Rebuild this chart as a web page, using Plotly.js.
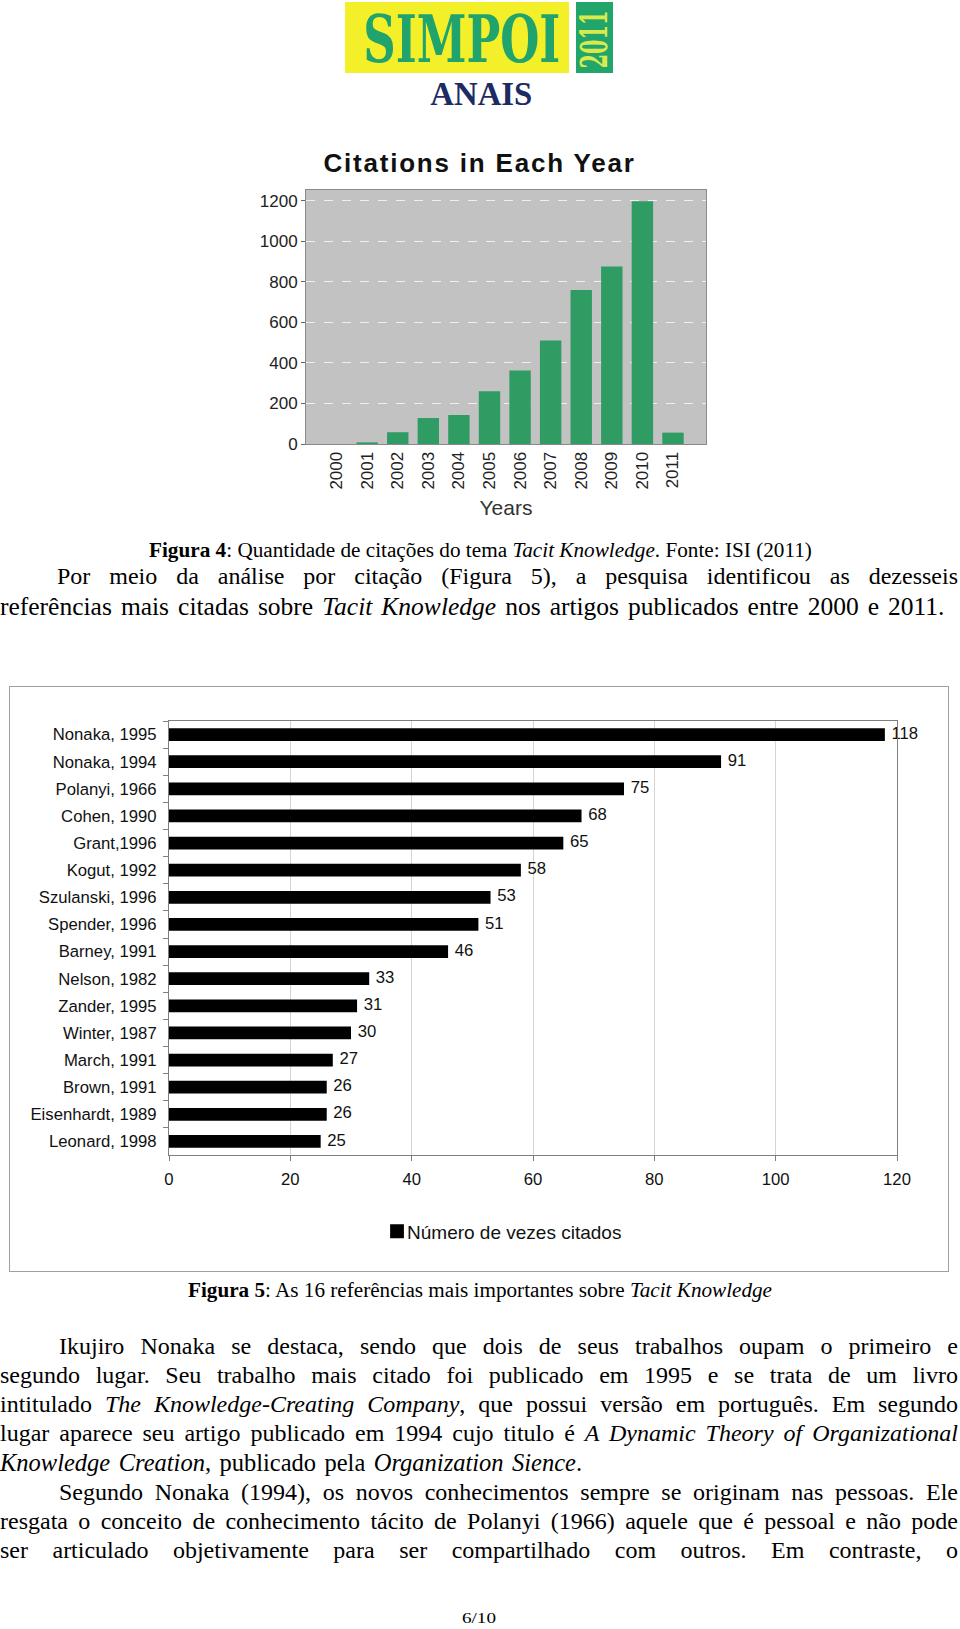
<!DOCTYPE html>
<html>
<head>
<meta charset="utf-8">
<script src="https://cdn.plot.ly/plotly-3.0.1.min.js"></script>
<style>
  html, body { margin:0; padding:0; background:#fff; }
  body { width:960px; height:1629px; position:relative; overflow:hidden; }
  .ln { position:absolute; white-space:nowrap; font-family:"Liberation Serif","Times New Roman",serif; color:#000; transform-origin:0 50%; }
  #c1 { position:absolute; left:230px; top:130px; width:500px; height:400px; }
  #c2 { position:absolute; left:9px; top:686px; width:940px; height:586px; }
  #c2frame { position:absolute; left:9px; top:686px; width:938px; height:584px; border:1.5px solid #a0a0a0; pointer-events:none; }
  #logoY { position:absolute; left:345px; top:2px; width:224px; height:71px; background:#f3f02a; }
  #logoG { position:absolute; left:576px; top:2px; width:37px; height:71px; background:#22a56b; }
  .logoT { position:absolute; white-space:nowrap; font-family:"DejaVu Serif",serif; font-weight:bold; }
</style>
</head>
<body>
<div id="logoY"></div>
<div id="logoG"></div>
<div id="c1"></div>
<div id="c2"></div>
<div id="c2frame"></div>
<script>
// ---------- DATA ----------
const years = ['2000','2001','2002','2003','2004','2005','2006','2007','2008','2009','2010','2011'];
const citationsPerYear = [0, 8, 58, 128, 143, 260, 363, 511, 760, 876, 1197, 56];

const references = ['Nonaka, 1995','Nonaka, 1994','Polanyi, 1966','Cohen, 1990','Grant,1996','Kogut, 1992',
  'Szulanski, 1996','Spender, 1996','Barney, 1991','Nelson, 1982','Zander, 1995','Winter, 1987',
  'March, 1991','Brown, 1991','Eisenhardt, 1989','Leonard, 1998'];
const timesCited = [118, 91, 75, 68, 65, 58, 53, 51, 46, 33, 31, 30, 27, 26, 26, 25];
const seriesName = 'Número de vezes citados';
const valueTicks = [0, 20, 40, 60, 80, 100, 120];
const yearTicks = [0, 200, 400, 600, 800, 1000, 1200];

// ---------- PAGE TEXT ----------
const lines = [
  {y:549.6, x0:148.6, x1:811.5, size:20, j:false, segs:[['Figura 4','b'],[': Quantidade de citações do tema ',''],['Tacit Knowledge','i'],['. Fonte: ISI (2011)','']]},
  {y:576.6, x0:57, x1:958, size:24, j:true, segs:[['Por meio da análise por citação (Figura 5), a pesquisa identificou as dezesseis','']]},
  {y:606.8, x0:0, x1:944.5, size:25.5, j:false, segs:[['referências mais citadas sobre ',''],['Tacit Knowledge','i'],[' nos artigos publicados entre 2000 e 2011.','']]},
  {y:1290.4, x0:188, x1:772, size:20, j:false, segs:[['Figura 5','b'],[': As 16 referências mais importantes sobre ',''],['Tacit Knowledge','i']]},
  {y:1346.5, x0:59, x1:958, size:24, j:true, segs:[['Ikujiro Nonaka se destaca, sendo que dois de seus trabalhos oupam o primeiro e','']]},
  {y:1375.6, x0:0, x1:958, size:24, j:true, segs:[['segundo lugar. Seu trabalho mais citado foi publicado em 1995 e se trata de um livro','']]},
  {y:1404.7, x0:0, x1:958, size:24, j:true, segs:[['intitulado ',''],['The Knowledge-Creating Company','i'],[', que possui versão em português. Em segundo','']]},
  {y:1433.8, x0:0, x1:958, size:24, j:true, segs:[['lugar aparece seu artigo publicado em 1994 cujo titulo é ',''],['A Dynamic Theory of Organizational','i']]},
  {y:1462.9, x0:0, x1:582, size:24.5, j:false, segs:[['Knowledge Creation','i'],[', publicado pela ',''],['Organization Sience','i'],['.','']]},
  {y:1492.0, x0:59, x1:958, size:24, j:true, segs:[['Segundo Nonaka (1994), os novos conhecimentos sempre se originam nas pessoas. Ele','']]},
  {y:1521.1, x0:0, x1:958, size:24, j:true, segs:[['resgata o conceito de conhecimento tácito de Polanyi (1966) aquele que é pessoal e não pode','']]},
  {y:1550.2, x0:0, x1:958, size:24, j:true, segs:[['ser articulado objetivamente para ser compartilhado com outros. Em contraste, o','']]},
  {y:1617.7, x0:462, x1:496, size:15, j:false, segs:[['6/10','']]}
];

function placeLine(L){
  const d = document.createElement('div');
  d.className = 'ln';
  const lh = Math.round(L.size*1.2);
  d.style.fontSize = L.size + 'px';
  d.style.lineHeight = lh + 'px';
  d.style.top = (L.y - lh/2) + 'px';
  d.style.left = L.x0 + 'px';
  let spaces = 0;
  L.segs.forEach(([t,s]) => {
    const sp = document.createElement('span');
    sp.textContent = t;
    if (s.indexOf('b') >= 0) sp.style.fontWeight = 'bold';
    if (s.indexOf('i') >= 0) sp.style.fontStyle = 'italic';
    spaces += (t.match(/ /g) || []).length;
    d.appendChild(sp);
  });
  document.body.appendChild(d);
  const w = d.getBoundingClientRect().width;
  const T = L.x1 - L.x0;
  if (w < T && spaces > 0 && (L.j || L.size > 22)) {
    d.style.wordSpacing = ((T - w)/spaces) + 'px';
  } else {
    d.style.transform = 'scaleX(' + (T/w) + ')';
  }
}
lines.forEach(placeLine);

// ---------- LOGO ----------
function logoText(txt, cx, cy, size, color, targetLen, rotate, family){
  const d = document.createElement('div');
  d.className = 'logoT';
  d.textContent = txt;
  d.style.fontSize = size + 'px';
  d.style.lineHeight = size + 'px';
  d.style.color = color;
  if (family) d.style.fontFamily = family;
  document.body.appendChild(d);
  const r = d.getBoundingClientRect();
  const k = targetLen / r.width;
  d.style.left = (cx - r.width/2) + 'px';
  d.style.top = (cy - r.height/2) + 'px';
  d.style.transformOrigin = '50% 50%';
  d.style.transform = (rotate ? 'rotate(-90deg) ' : '') + 'scaleX(' + k + ')';
}
logoText('SIMPOI', 461.5, 39, 66, '#20a36c', 197, false);
logoText('2011', 594.5, 39, 37, '#d8ea4c', 58, true);
logoText('ANAIS', 481, 94, 33, '#1c2b63', 102, false, '"Liberation Serif","Times New Roman",serif');

// ---------- CHART 1 ----------
const sans = 'Liberation Sans, Arial, sans-serif';
Plotly.newPlot('c1', [{
  type:'bar', x:years, y:citationsPerYear, width:0.7,
  marker:{color:'#2f9c64'}, hoverinfo:'skip'
}], {
  width:500, height:400,
  margin:{l:75.7, r:24.3, t:60, b:85.7},
  paper_bgcolor:'rgba(0,0,0,0)', plot_bgcolor:'#c2c2c2',
  showlegend:false,
  title:{text:'<b>Citations in Each Year</b>', font:{family:sans, size:26, color:'#111'},
         x:0.499, xref:'container', xanchor:'center', y:0.9175, yref:'container', yanchor:'middle'},
  xaxis:{type:'category', range:[-1, 12.08], tickangle:-90, tickfont:{family:sans, size:17, color:'#222'},
         showline:true, mirror:true, linecolor:'#8a8a8a', ticks:'', showgrid:false,
         title:{text:'Years', font:{family:sans, size:21, color:'#333'}, standoff:11}},
  yaxis:{range:[0, 1253], tickvals:yearTicks, tickfont:{family:sans, size:17, color:'#222'},
         showline:true, mirror:true, linecolor:'#8a8a8a', ticks:'outside', ticklen:4, tickcolor:'#666',
         showgrid:true, gridcolor:'#efefef', griddash:'dash', gridwidth:1, zeroline:false}
}, {staticPlot:true}).then(() => {
  const t = document.querySelector('#c1 .gtitle');
  if (t) t.style.letterSpacing = '1.8px';
});

// ---------- CHART 2 ----------
Plotly.newPlot('c2', [{
  type:'bar', orientation:'h', x:timesCited, y:references, width:0.47,
  marker:{color:'#000'}, name:seriesName, hoverinfo:'skip'
},{
  type:'scatter', mode:'markers+text', x:timesCited, y:references, text:timesCited.map(String),
  marker:{size:9, opacity:0}, textposition:'middle right', textfont:{family:sans, size:16.7, color:'#111'},
  cliponaxis:false, showlegend:false, hoverinfo:'skip'
}], {
  width:940, height:586,
  margin:{l:159.7, r:52.3, t:34.7, b:116.5},
  paper_bgcolor:'rgba(0,0,0,0)', plot_bgcolor:'#fff',
  showlegend:true,
  legend:{orientation:'h', x:0.272, xanchor:'left', y:-0.176, yanchor:'middle',
          font:{family:sans, size:19, color:'#111'}, itemwidth:30},
  xaxis:{range:[0,120], tickvals:valueTicks, tickfont:{family:sans, size:16.7, color:'#111'},
         showline:true, mirror:true, linecolor:'#7f7f7f', ticks:'outside', ticklen:5, tickcolor:'#7f7f7f',
         ticklabelstandoff:4,
         showgrid:true, gridcolor:'#d4d4d4', zeroline:false},
  yaxis:{type:'category', categoryorder:'array', categoryarray:references, range:[15.5,-0.5],
         tickson:'boundaries', ticks:'outside', ticklen:5, tickcolor:'#7f7f7f', ticklabelstandoff:8,
         tickfont:{family:sans, size:16.7, color:'#111'},
         showline:true, mirror:true, linecolor:'#7f7f7f', showgrid:false}
}, {staticPlot:true}).then(() => {
  document.querySelectorAll('#c2 .legendpoints').forEach(g => {
    const prev = g.getAttribute('transform') || '';
    g.setAttribute('transform', prev + ' translate(7,0) scale(1.15)');
  });
});
</script>
</body>
</html>
